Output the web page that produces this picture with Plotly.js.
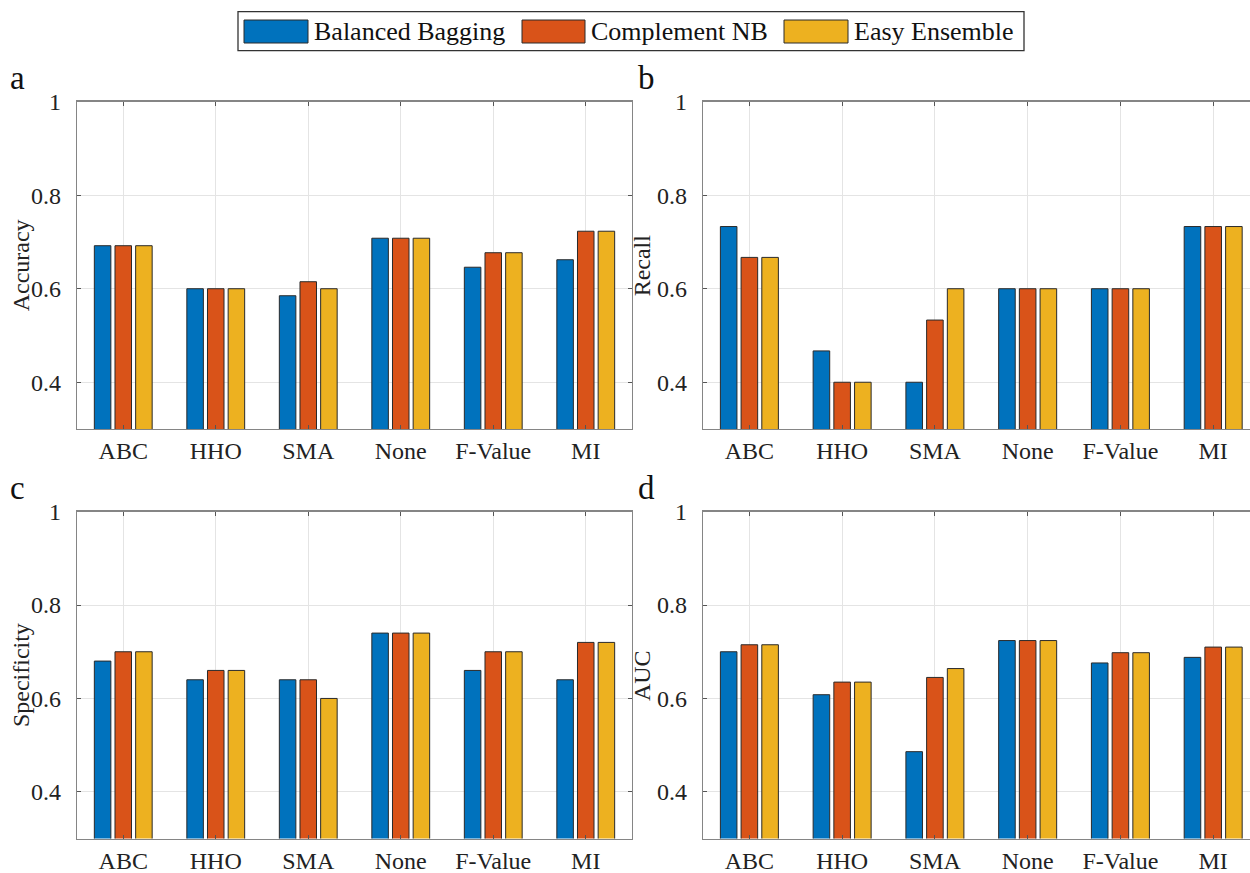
<!DOCTYPE html>
<html>
<head>
<meta charset="utf-8">
<script src="https://cdn.plot.ly/plotly-3.0.1.min.js"></script>
<style>
  html, body { margin: 0; padding: 0; background: #fff; }
  #chart { width: 1250px; height: 873px; }
</style>
</head>
<body>
<div id="chart"></div>
<script>
// Feature-selection methods on the x axis
const categories = ['ABC', 'HHO', 'SMA', 'None', 'F-Value', 'MI'];

// Classifiers (one bar per classifier in each group)
const models = ['Balanced Bagging', 'Complement NB', 'Easy Ensemble'];
const modelColors = ['#0072BD', '#D95319', '#EDB120'];

// Accuracy
const accuracyBB  = [0.692, 0.600, 0.585, 0.708, 0.646, 0.662];
const accuracyCNB = [0.692, 0.600, 0.615, 0.708, 0.677, 0.723];
const accuracyEE  = [0.692, 0.600, 0.600, 0.708, 0.677, 0.723];

// Recall
const recallBB  = [0.733, 0.467, 0.400, 0.600, 0.600, 0.733];
const recallCNB = [0.667, 0.400, 0.533, 0.600, 0.600, 0.733];
const recallEE  = [0.667, 0.400, 0.600, 0.600, 0.600, 0.733];

// Specificity
const specificityBB  = [0.68, 0.64, 0.64, 0.74, 0.66, 0.64];
const specificityCNB = [0.70, 0.66, 0.64, 0.74, 0.70, 0.72];
const specificityEE  = [0.70, 0.66, 0.60, 0.74, 0.70, 0.72];

// AUC
const aucBB  = [0.700, 0.608, 0.486, 0.724, 0.676, 0.688];
const aucCNB = [0.715, 0.635, 0.645, 0.724, 0.698, 0.710];
const aucEE  = [0.715, 0.635, 0.664, 0.724, 0.698, 0.710];

const yTickVals = [0.4, 0.6, 0.8, 1];
const yTickText = ['0.4', '0.6', '0.8', '1'];

const W = 1250, H = 873;
const px = v => v / W;          // pixel -> paper x
const py = v => 1 - v / H;      // pixel -> paper y

const FONT = '"Liberation Serif", "Times New Roman", serif';

const panels = [
  { letter: 'a', title: 'Accuracy',    series: [accuracyBB, accuracyCNB, accuracyEE],          xa: 'x',  ya: 'y',  left: true,  top: true  },
  { letter: 'b', title: 'Recall',      series: [recallBB, recallCNB, recallEE],                xa: 'x2', ya: 'y2', left: false, top: true  },
  { letter: 'c', title: 'Specificity', series: [specificityBB, specificityCNB, specificityEE], xa: 'x3', ya: 'y3', left: true,  top: false },
  { letter: 'd', title: 'AUC',         series: [aucBB, aucCNB, aucEE],                         xa: 'x4', ya: 'y4', left: false, top: false }
];

const traces = [];
panels.forEach(p => {
  p.series.forEach((vals, i) => {
    traces.push({
      type: 'bar',
      name: models[i],
      x: categories,
      y: vals,
      xaxis: p.xa,
      yaxis: p.ya,
      showlegend: false,
      marker: { color: modelColors[i], line: { color: '#2a2a2a', width: 1 } },
      hoverinfo: 'x+y+name'
    });
  });
});

const layout = {
  width: W,
  height: H,
  margin: { l: 0, r: 0, t: 0, b: 0 },
  paper_bgcolor: '#ffffff',
  plot_bgcolor: '#ffffff',
  barmode: 'group',
  bargap: 0.33,
  bargroupgap: 0.2,
  font: { family: FONT, size: 24, color: '#222' },
  showlegend: false,
  shapes: [],
  annotations: []
};

panels.forEach(p => {
  const n = p.xa.slice(1);
  const xKey = 'xaxis' + n;
  const yKey = 'yaxis' + n;
  const xDom = p.left ? [px(77), px(632)] : [px(703), 1];
  const yDom = p.top ? [py(429), py(101.7)] : [py(838.5), py(511.7)];
  const xEnd = p.left ? 5.5 : -0.5 + (W - 703) / 92.76;

  layout[xKey] = {
    domain: xDom,
    anchor: 'y' + n,
    type: 'category',
    categoryorder: 'array',
    categoryarray: categories,
    range: [-0.5, xEnd],
    showgrid: true,
    gridcolor: '#e4e4e4',
    gridwidth: 1,
    showline: true,
    linecolor: '#858585',
    linewidth: 1.3,
    mirror: 'ticks',
    ticks: 'inside',
    ticklen: 4,
    tickcolor: '#555',
    tickwidth: 1,
    ticklabelstandoff: 0,
    tickfont: { family: FONT, size: 24, color: '#222' },
    zeroline: false,
    fixedrange: true
  };
  layout[yKey] = {
    domain: yDom,
    anchor: 'x' + n,
    range: [0.3, 1],
    tickvals: yTickVals,
    ticktext: yTickText,
    showgrid: true,
    gridcolor: '#e4e4e4',
    gridwidth: 1,
    showline: true,
    linecolor: '#858585',
    linewidth: 1.3,
    mirror: p.left ? 'ticks' : false,
    ticks: 'inside',
    ticklen: 4,
    tickcolor: '#555',
    tickwidth: 1,
    ticklabelstandoff: 10,
    tickfont: { family: FONT, size: 24, color: '#222' },
    zeroline: false,
    fixedrange: true
  };

  // y-axis title, rotated, centred on the panel height
  layout.annotations.push({
    xref: 'paper', yref: 'paper',
    x: px(p.left ? 21 : 642), y: (yDom[0] + yDom[1]) / 2,
    xanchor: 'center', yanchor: 'middle',
    textangle: -90,
    text: p.title,
    showarrow: false,
    font: { family: FONT, size: 24, color: '#222' }
  });

  // panel letter
  layout.annotations.push({
    xref: 'paper', yref: 'paper',
    x: px(p.left ? 17 : 646), y: py(p.top ? 78 : 488),
    xanchor: 'center', yanchor: 'middle',
    text: p.letter,
    showarrow: false,
    font: { family: FONT, size: 33, color: '#111' }
  });
});

// Legend box with one colour patch and label per classifier
const legendBox = { x0: 238, x1: 1024, y0: 11.7, y1: 50.7 };
const patchX = [[244, 308], [522, 585], [784, 848]];
const patchY = [20, 43];
layout.shapes.push({
  type: 'rect', xref: 'paper', yref: 'paper',
  x0: px(legendBox.x0), x1: px(legendBox.x1),
  y0: py(legendBox.y1), y1: py(legendBox.y0),
  line: { color: '#333', width: 1.3 },
  fillcolor: '#ffffff', layer: 'below'
});
models.forEach((m, i) => {
  layout.shapes.push({
    type: 'rect', xref: 'paper', yref: 'paper',
    x0: px(patchX[i][0]), x1: px(patchX[i][1]),
    y0: py(patchY[1]), y1: py(patchY[0]),
    line: { color: '#2a2a2a', width: 1 },
    fillcolor: modelColors[i]
  });
  layout.annotations.push({
    xref: 'paper', yref: 'paper',
    x: px(patchX[i][1] + 4), y: py((patchY[0] + patchY[1]) / 2),
    xanchor: 'left', yanchor: 'middle',
    text: m,
    showarrow: false,
    font: { family: FONT, size: 26, color: '#111' }
  });
});

Plotly.newPlot('chart', traces, layout, { displayModeBar: false, staticPlot: true });
</script>
</body>
</html>
